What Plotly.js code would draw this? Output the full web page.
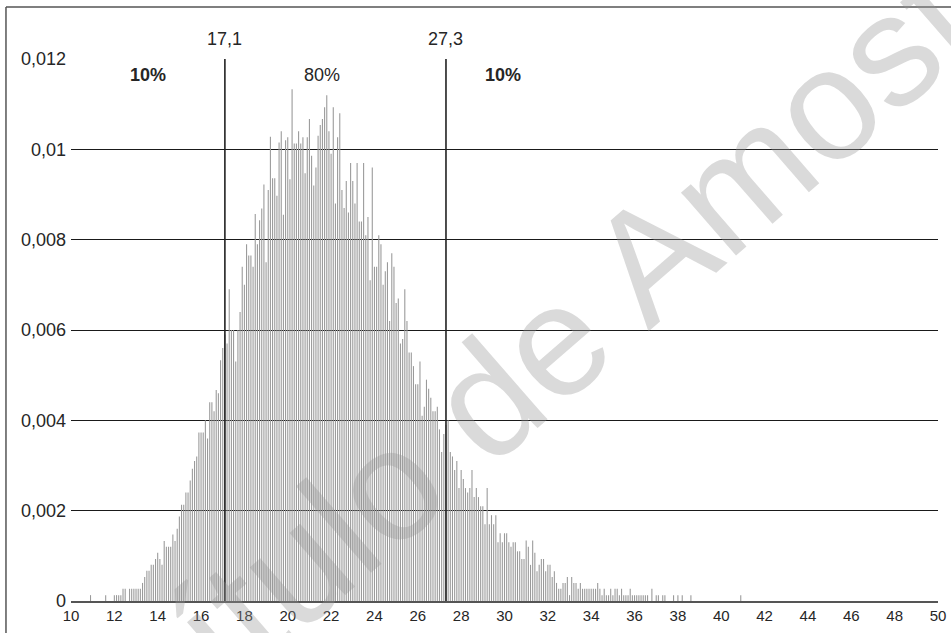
<!DOCTYPE html>
<html><head><meta charset="utf-8">
<script src="https://cdn.plot.ly/plotly-3.0.1.min.js"></script>
<style>html,body{margin:0;padding:0;background:#fff}#chart{width:951px;height:633px}</style>
</head><body><div id="chart"></div>
<script>
// Histogram: first bin centre and bin width
const binStart = 10.9;
const binWidth = 0.1;
// Density per bin (10.9, 11.0, ... 40.9)
const density = [
  0.00013,
  0,0,0,0,0,0,0.00013,0,0,0,
  0.00013,0.00013,0.00013,0.00013,0.00027,0.00027,0,0.00027,0.00027,0.00027,
  0.00027,0.00027,0.00027,0.0004,0.00053,0.00067,0.00067,0.0008,0.0008,0.00093,
  0.00107,0.00093,0.0008,0.00133,0.0012,0.0012,0.0012,0.00147,0.00133,0.0016,
  0.00187,0.00213,0.00213,0.0024,0.0024,0.00267,0.00293,0.0031,0.0032,0.00373,
  0.00373,0.00373,0.004,0.0036,0.0044,0.0044,0.0042,0.00467,0.0046,0.00533,
  0.0056,0.0059,0.0057,0.0069,0.006,0.006,0.0053,0.006,0.0064,0.0074,
  0.007,0.0079,0.00765,0.00765,0.0074,0.00857,0.0079,0.00843,0.00869,0.00922,
  0.0075,0.0091,0.01028,0.00936,0.00936,0.00897,0.01015,0.0104,0.00855,0.0102,
  0.01027,0.00934,0.01133,0.01013,0.01013,0.0104,0.01013,0.01027,0.00947,0.01027,
  0.01067,0.00986,0.0092,0.0096,0.0103,0.01054,0.01067,0.01093,0.0112,0.0104,
  0.0099,0.01093,0.0088,0.01027,0.0108,0.0091,0.0087,0.0093,0.0086,0.0097,
  0.0093,0.0088,0.0097,0.0084,0.0084,0.0097,0.0081,0.0085,0.0071,0.0096,
  0.0074,0.0074,0.0081,0.0079,0.007,0.0073,0.0075,0.0062,0.0077,0.0074,
  0.0066,0.0067,0.0057,0.0058,0.0069,0.0062,0.0055,0.0055,0.0052,0.0048,
  0.0048,0.0053,0.0041,0.0043,0.0049,0.0047,0.0045,0.0042,0.0042,0.0043,
  0.0038,0.0033,0.0037,0.0039,0.004,0.0033,0.0032,0.0029,0.0031,0.0025,
  0.0029,0.0027,0.0025,0.0024,0.0025,0.0029,0.0023,0.0025,0.0023,0.0021,
  0.0021,0.0017,0.0025,0.0017,0.0019,0.0017,0.0019,0.0013,0.0015,0.0013,
  0.0015,0.0015,0.0013,0.0012,0.0013,0.0013,0.0011,0.0011,0.00093,0.00093,
  0.00134,0.0012,0.0008,0.00134,0.00107,0.00066,0.0008,0.00093,0.00093,0.00066,
  0.0008,0.0008,0.00053,0.00066,0.0004,0.00027,0.00027,0.0004,0.0004,0.00053,
  0.00013,0.00053,0.0004,0.0004,0.00027,0.0004,0.00027,0.00027,0.00027,0.00027,
  0.00027,0.00027,0.00027,0.0004,0.00027,0.00013,0.00027,0.00013,0.00013,0.00027,
  0.00013,0.00027,0.00027,0.00013,0.00027,0.00013,0.00013,0.00013,0.00027,0.00013,
  0.00013,0.00013,0.00013,0.00013,0.00013,0.00013,0.00013,0,0.00027,0,
  0.00013,0.00013,0,0.00013,0.00013,0,0,0,0.00013,0,
  0.00013,0,0.00013,0,0,0,0.00013,0,0,0,
  0,0,0,0,0,0,0,0,0,0,
  0,0,0,0,0,0,0,0,0,0.00013
];
// Percentile cut points and their labels
const cutPoints = [17.1, 27.3];
const cutLabels = ["17,1", "27,3"];
// Share of the distribution in each region
const shareLabels = ["<b>10%</b>", "80%", "<b>10%</b>"];
// Axis ticks
const xTickVals = [10,12,14,16,18,20,22,24,26,28,30,32,34,36,38,40,42,44,46,48,50];
const yTickVals = [0,0.002,0.004,0.006,0.008,0.01,0.012];
const yTickText = ["0","0,002","0,004","0,006","0,008","0,01","0,012"];
const watermark = "Capítulo de Amostra";

const FONT = '"Liberation Sans", Arial, sans-serif';
const TXT = '#262626';

const trace = {
  type: 'bar', x0: binStart, dx: binWidth, y: density,
  marker: {color: '#9a9a9a', line: {width: 0}},
  hoverinfo: 'skip'
};

const sharePos = [13.55, 21.6, 29.95];
const annotations = [];
cutPoints.forEach((c, i) => annotations.push({
  x: c, xref: 'x', y: 1.036, yref: 'paper', text: cutLabels[i], showarrow: false,
  font: {family: FONT, size: 18, color: TXT}, xanchor: 'center', yanchor: 'middle'
}));
shareLabels.forEach((s, i) => annotations.push({
  x: sharePos[i], xref: 'x', y: 0.9705, yref: 'paper', text: s, showarrow: false,
  font: {family: FONT, size: 18, color: TXT}, xanchor: 'center', yanchor: 'middle'
}));
annotations.push({
  x: 0.513, y: 0.419, xref: 'paper', yref: 'paper', text: watermark, showarrow: false,
  textangle: -41, font: {family: FONT, size: 158, color: 'rgba(150,150,150,0.35)'},
  xanchor: 'center', yanchor: 'middle'
});

const shapes = cutPoints.map(c => ({
  type: 'line', xref: 'x', yref: 'y', x0: c, x1: c, y0: 0, y1: 0.012,
  line: {color: '#222', width: 1.6}
}));
shapes.push({type: 'line', xref: 'paper', yref: 'paper', x0: -0.075, x1: 1.02, y0: 1.0959, y1: 1.0959,
  line: {color: '#555', width: 1.5}});
shapes.push({type: 'line', xref: 'paper', yref: 'paper', x0: -0.075, x1: -0.075, y0: 1.0959, y1: -0.07,
  line: {color: '#555', width: 1.5}});

const layout = {
  width: 951, height: 633,
  margin: {l: 71, r: 13, t: 59, b: 32, pad: 0},
  paper_bgcolor: '#fff', plot_bgcolor: '#fff',
  showlegend: false, bargap: 0.5,
  font: {family: FONT, color: TXT},
  xaxis: {
    range: [10, 50], tickmode: 'array', tickvals: xTickVals,
    showgrid: false, zeroline: false, showline: true, linecolor: '#555', linewidth: 1.5,
    ticks: '', tickfont: {family: FONT, size: 15, color: TXT}, fixedrange: true
  },
  yaxis: {
    range: [0, 0.012], tickmode: 'array', tickvals: yTickVals, ticktext: yTickText,
    showgrid: true, gridcolor: '#1a1a1a', gridwidth: 1, zeroline: false, showline: false,
    ticks: '', ticklabelstandoff: 4, tickfont: {family: FONT, size: 18, color: TXT}, fixedrange: true
  },
  annotations: annotations,
  shapes: shapes
};

Plotly.newPlot('chart', [trace], layout, {displayModeBar: false, staticPlot: true});
</script>
</body></html>
